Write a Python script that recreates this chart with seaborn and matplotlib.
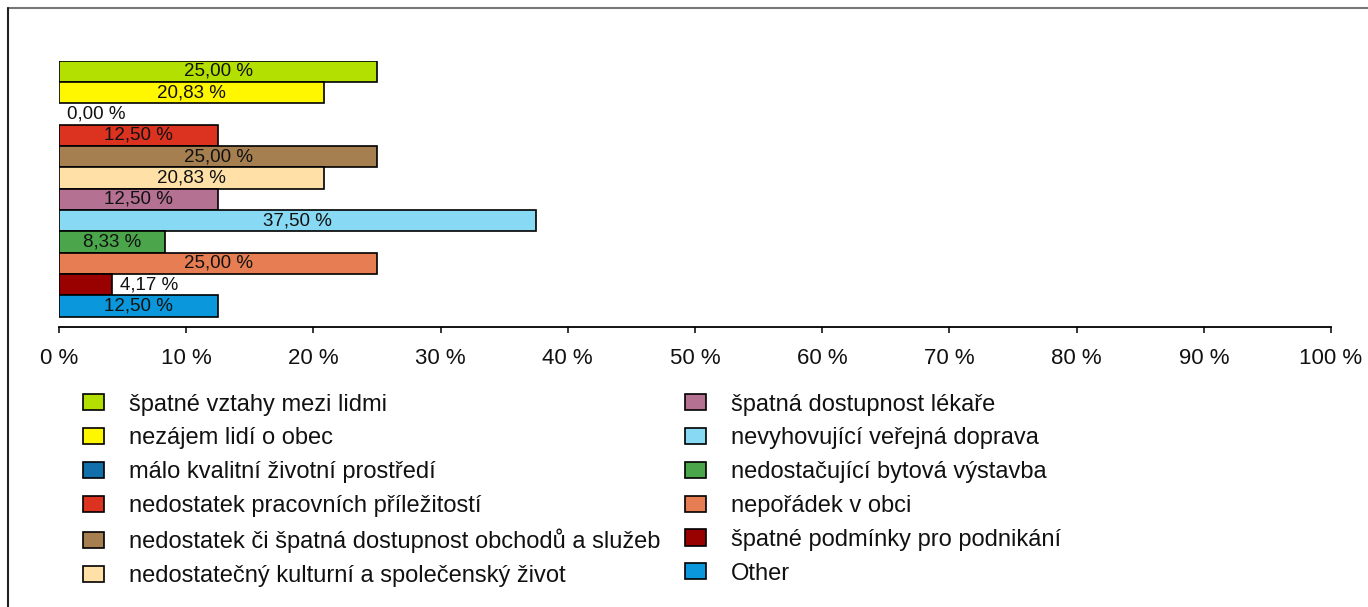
import matplotlib
matplotlib.use("Agg")
import matplotlib.pyplot as plt
from matplotlib.patches import Patch
from matplotlib.lines import Line2D
import seaborn as sns
import pandas as pd

# data
kategorie = [
    "špatné vztahy mezi lidmi",
    "nezájem lidí o obec",
    "málo kvalitní životní prostředí",
    "nedostatek pracovních příležitostí",
    "nedostatek či špatná dostupnost obchodů a služeb",
    "nedostatečný kulturní a společenský život",
    "špatná dostupnost lékaře",
    "nevyhovující veřejná doprava",
    "nedostačující bytová výstavba",
    "nepořádek v obci",
    "špatné podmínky pro podnikání",
    "Other",
]
hodnoty = [25.00, 20.83, 0.00, 12.50, 25.00, 20.83, 12.50, 37.50, 8.33, 25.00, 4.17, 12.50]
barvy = [
    "#b3e000", "#fff700", "#1170aa", "#dc3220", "#a67f50", "#ffe1a8",
    "#b47192", "#88d9f4", "#4ba64b", "#e77d52", "#990000", "#0b97dc",
]
tick_hodnoty = list(range(0, 101, 10))

df = pd.DataFrame({"kategorie": kategorie, "hodnota": hodnoty})

sns.set_theme(style="white")
plt.rcParams["font.family"] = ["Liberation Sans", "DejaVu Sans"]

W, H = 1368, 607
fig = plt.figure(figsize=(W / 100, H / 100), dpi=100)
ax = fig.add_axes([59 / W, 1 - 326.7 / H, (1331 - 59) / W, (326.7 - 60.7) / H])

sns.barplot(data=df, x="hodnota", y="kategorie", hue="kategorie",
            palette=barvy, order=kategorie, hue_order=kategorie,
            width=1.0, edgecolor="black", linewidth=1.2, saturation=1,
            legend=False, ax=ax)

ax.set_xlim(0, 100)
ax.set_ylim(11.97, -0.5)

# popisky hodnot
for p in ax.patches:
    w = p.get_width()
    yc = p.get_y() + p.get_height() / 2
    txt = f"{w:.2f}".replace(".", ",") + " %"
    if w == 0:
        p.set_linewidth(0)
    if w >= 6:
        ax.text(w / 2, yc, txt, ha="center", va="center", fontsize=13.5, color="#111111")
    else:
        ax.text(w + 0.65, yc, txt, ha="left", va="center", fontsize=13.5, color="#111111")

for s in ["left", "right", "top"]:
    ax.spines[s].set_visible(False)
ax.spines["bottom"].set_color("black")
ax.spines["bottom"].set_linewidth(1.3)
ax.set_xticks(tick_hodnoty)
ax.set_xticklabels([f"{t} %" for t in tick_hodnoty])
ax.tick_params(axis="x", bottom=True, direction="out", length=4.5, width=1.1,
               color="black", labelsize=16, pad=10.5, labelcolor="#111111")
ax.set_yticks([])
ax.set_xlabel("")
ax.set_ylabel("")

# legenda ve dvou sloupcich
handles = [Patch(facecolor=c, edgecolor="black", linewidth=1.2) for c in barvy]
kw = dict(frameon=False, fontsize=17, handlelength=0.9, handleheight=0.68,
          handletextpad=1.05, labelspacing=0.5, borderpad=0, borderaxespad=0,
          loc="upper left", labelcolor="#111111")
leg1 = fig.legend(handles[:6], kategorie[:6], bbox_to_anchor=(83 / W, 1 - 393.5 / H), **kw)
leg2 = fig.legend(handles[6:], kategorie[6:], bbox_to_anchor=(685 / W, 1 - 393.5 / H), **kw)

# ramecek
fig.add_artist(Line2D([8 / W, 1], [1 - 8 / H, 1 - 8 / H], color="#777777", linewidth=1.5,
                      transform=fig.transFigure))
fig.add_artist(Line2D([8 / W, 8 / W], [0, 1 - 8 / H], color="#222222", linewidth=1.5,
                      transform=fig.transFigure))

fig.savefig("out.png", dpi=100)
